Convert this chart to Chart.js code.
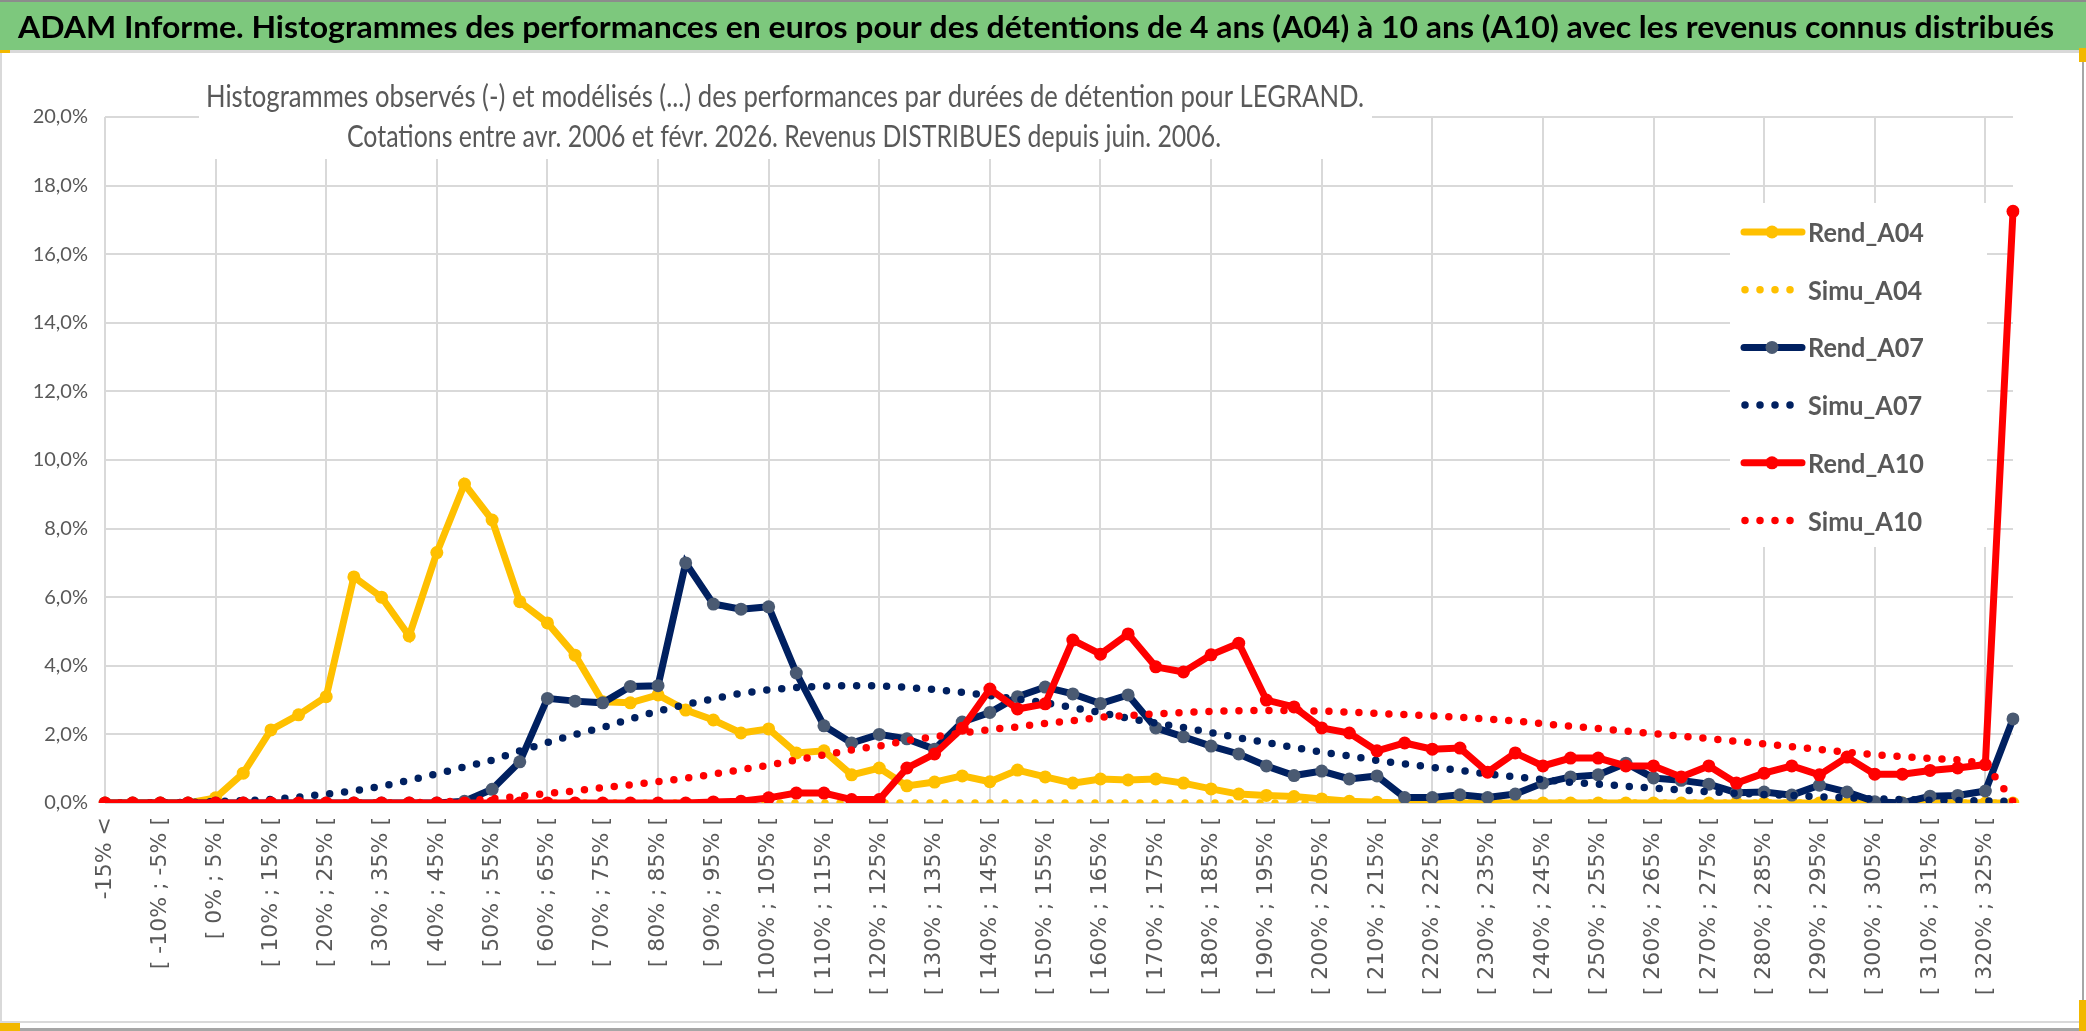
<!DOCTYPE html>
<html>
<head>
<meta charset="utf-8">
<script src="https://cdn.jsdelivr.net/npm/chart.js@4/dist/chart.umd.min.js"></script>
<style>
  html, body { margin: 0; padding: 0; background: #fff; }
  body { width: 2086px; height: 1031px; overflow: hidden; }
  #graphique { display: block; }
</style>
</head>
<body>
<canvas id="graphique" width="2086" height="1031"></canvas>
<script>
// libellés et valeurs (en %)
const titreBandeau = 'ADAM Informe. Histogrammes des performances en euros pour des détentions de 4 ans (A04) à 10 ans (A10) avec les revenus connus distribués';
const sousTitre = [
  'Histogrammes observés (-) et modélisés (...) des performances par durées de détention pour LEGRAND.',
  'Cotations entre avr. 2006 et févr. 2026. Revenus DISTRIBUES depuis juin. 2006.'
];

const categories = [
  '-15% <', '[ -15% ; -10% [', '[ -10% ; -5% [', '[ -5% ; 0% [', '[ 0% ; 5% [',
  '[ 5% ; 10% [', '[ 10% ; 15% [', '[ 15% ; 20% [', '[ 20% ; 25% [', '[ 25% ; 30% [',
  '[ 30% ; 35% [', '[ 35% ; 40% [', '[ 40% ; 45% [', '[ 45% ; 50% [', '[ 50% ; 55% [',
  '[ 55% ; 60% [', '[ 60% ; 65% [', '[ 65% ; 70% [', '[ 70% ; 75% [', '[ 75% ; 80% [',
  '[ 80% ; 85% [', '[ 85% ; 90% [', '[ 90% ; 95% [', '[ 95% ; 100% [', '[ 100% ; 105% [',
  '[ 105% ; 110% [', '[ 110% ; 115% [', '[ 115% ; 120% [', '[ 120% ; 125% [', '[ 125% ; 130% [',
  '[ 130% ; 135% [', '[ 135% ; 140% [', '[ 140% ; 145% [', '[ 145% ; 150% [', '[ 150% ; 155% [',
  '[ 155% ; 160% [', '[ 160% ; 165% [', '[ 165% ; 170% [', '[ 170% ; 175% [', '[ 175% ; 180% [',
  '[ 180% ; 185% [', '[ 185% ; 190% [', '[ 190% ; 195% [', '[ 195% ; 200% [', '[ 200% ; 205% [',
  '[ 205% ; 210% [', '[ 210% ; 215% [', '[ 215% ; 220% [', '[ 220% ; 225% [', '[ 225% ; 230% [',
  '[ 230% ; 235% [', '[ 235% ; 240% [', '[ 240% ; 245% [', '[ 245% ; 250% [', '[ 250% ; 255% [',
  '[ 255% ; 260% [', '[ 260% ; 265% [', '[ 265% ; 270% [', '[ 270% ; 275% [', '[ 275% ; 280% [',
  '[ 280% ; 285% [', '[ 285% ; 290% [', '[ 290% ; 295% [', '[ 295% ; 300% [', '[ 300% ; 305% [',
  '[ 305% ; 310% [', '[ 310% ; 315% [', '[ 315% ; 320% [', '[ 320% ; 325% [', '> 325%'
];

const rendA04 = [
  0, 0, 0, 0, 0.15, 0.87, 2.13, 2.57, 3.1, 6.59,
  6.0, 4.87, 7.3, 9.3, 8.25, 5.87, 5.25, 4.31, 2.95, 2.92,
  3.15, 2.71, 2.42, 2.04, 2.16, 1.46, 1.52, 0.82, 1.02, 0.5,
  0.61, 0.79, 0.62, 0.96, 0.76, 0.58, 0.7, 0.67, 0.7, 0.58,
  0.41, 0.26, 0.22, 0.19, 0.12, 0.05, 0.02, 0, 0, 0,
  0, 0, 0, 0, 0, 0, 0, 0, 0, 0,
  0, 0, 0, 0, 0, 0, 0, 0, 0, 0
];
const simuA04 = [
  0, 0, 0, 0, 0, 0, 0, 0, 0, 0,
  0, 0, 0, 0, 0, 0, 0, 0, 0, 0,
  0, 0, 0, 0, 0, 0, 0, 0, 0, 0,
  0, 0, 0, 0, 0, 0, 0, 0, 0, 0,
  0, 0, 0, 0, 0, 0, 0, 0, 0, 0,
  0, 0, 0, 0, 0, 0, 0, 0, 0, 0,
  0, 0, 0, 0, 0, 0, 0, 0, 0, 0
];
const rendA07 = [
  0, 0, 0, 0, 0, 0, 0, 0, 0, 0,
  0, 0, 0, 0.05, 0.4, 1.2, 3.05, 2.97, 2.92, 3.4,
  3.42, 7.0, 5.8, 5.65, 5.72, 3.79, 2.25, 1.75, 2.0, 1.87,
  1.57, 2.36, 2.64, 3.1, 3.38, 3.18, 2.9, 3.15, 2.19, 1.93,
  1.66, 1.43, 1.08, 0.8, 0.93, 0.7, 0.79, 0.16, 0.16, 0.24,
  0.16, 0.26, 0.58, 0.76, 0.82, 1.16, 0.73, 0.66, 0.55, 0.3,
  0.32, 0.23, 0.52, 0.32, 0.04, 0.0, 0.2, 0.22, 0.35, 2.45
];
const simuA07 = [
  0, 0, 0.01, 0.02, 0.04, 0.07, 0.1, 0.17, 0.26, 0.35,
  0.49, 0.66, 0.85, 1.05, 1.25, 1.52, 1.76, 2.0, 2.2, 2.45,
  2.68, 2.87, 3.04, 3.2, 3.3, 3.37, 3.41, 3.42, 3.42, 3.37,
  3.31, 3.23, 3.13, 3.03, 2.92, 2.78, 2.64, 2.47, 2.33, 2.2,
  2.05, 1.9, 1.76, 1.62, 1.48, 1.37, 1.24, 1.14, 1.04, 0.95,
  0.85, 0.76, 0.68, 0.6, 0.55, 0.49, 0.43, 0.38, 0.33, 0.28,
  0.25, 0.22, 0.18, 0.15, 0.12, 0.1, 0.08, 0.07, 0.06, 0.05
];
const rendA10 = [
  0, 0, 0, 0, 0, 0, 0, 0, 0, 0,
  0, 0, 0, 0, 0, 0, 0, 0, 0, 0,
  0, 0, 0.03, 0.05, 0.15, 0.29, 0.29, 0.1, 0.1, 1.02,
  1.43, 2.18, 3.32, 2.74, 2.89, 4.75, 4.34, 4.93, 3.97, 3.82,
  4.32, 4.66, 3.0, 2.8, 2.19, 2.04, 1.52, 1.75, 1.57, 1.6,
  0.9, 1.46, 1.08, 1.31, 1.31, 1.08, 1.08, 0.76, 1.08, 0.58,
  0.87, 1.08, 0.82, 1.34, 0.84, 0.84, 0.95, 1.02, 1.12, 17.25
];
const simuA10 = [
  0, 0, 0, 0, 0, 0, 0, 0, 0, 0,
  0, 0, 0.03, 0.06, 0.12, 0.2, 0.28, 0.35, 0.45, 0.53,
  0.62, 0.72, 0.84, 0.97, 1.1, 1.25, 1.4, 1.55, 1.66, 1.82,
  1.93, 2.04, 2.14, 2.22, 2.32, 2.4, 2.5, 2.55, 2.6, 2.64,
  2.67, 2.69, 2.7, 2.7, 2.68, 2.65, 2.61, 2.58, 2.54, 2.5,
  2.45, 2.39, 2.31, 2.24, 2.17, 2.1, 2.02, 1.95, 1.88, 1.8,
  1.72, 1.64, 1.56, 1.48, 1.41, 1.35, 1.3, 1.26, 1.15, 0.05
];

const JAUNE = '#FFC000';
const MARINE = '#002060';
const ROUGE = '#FF0000';
const GRIS_TEXTE = '#595959';
const GRILLE = '#d9d9d9';
const POLICE_TITRE = "Lato, 'Open Sans', sans-serif";

// texte compressé / étiré horizontalement pour tenir dans une largeur donnée
function texteAjuste(ctx, txt, x, y, largeur) {
  const w = ctx.measureText(txt).width;
  ctx.save();
  ctx.translate(x, y);
  ctx.scale(largeur / w, 1);
  ctx.fillText(txt, 0, 0);
  ctx.restore();
}

function serieRend(label, data, couleur, couleurPoint, ordre) {
  return {
    label: label, data: data, order: ordre,
    borderColor: couleur, backgroundColor: couleurPoint,
    borderWidth: 7, tension: 0,
    pointRadius: 6.5, pointHoverRadius: 6.5, pointBorderWidth: 0,
    pointBackgroundColor: couleurPoint,
    fill: false
  };
}
function serieSimu(label, data, couleur, ordre) {
  return {
    label: label, data: data, order: ordre,
    borderColor: couleur, backgroundColor: couleur,
    borderWidth: 7.5, borderDash: [0, 15], borderCapStyle: 'round',
    tension: 0, pointRadius: 0, pointHoverRadius: 0,
    fill: false
  };
}

const decor = {
  id: 'decor',
  beforeDraw(chart) {
    const ctx = chart.ctx;
    ctx.save();
    ctx.fillStyle = '#fff';
    ctx.fillRect(0, 0, chart.width, chart.height);
    // bandeau vert
    ctx.fillStyle = '#7dc87d';
    ctx.fillRect(0, 0, chart.width, 50);
    ctx.fillStyle = '#8c8c8c';
    ctx.fillRect(0, 0, chart.width, 2);
    ctx.fillStyle = GRILLE;
    ctx.fillRect(0, 50, chart.width, 3);
    ctx.fillStyle = '#000';
    ctx.font = 'bold 31px ' + POLICE_TITRE;
    ctx.textAlign = 'left';
    ctx.textBaseline = 'alphabetic';
    texteAjuste(ctx, titreBandeau, 18, 38, 2036);
    // cadre
    ctx.fillStyle = GRILLE;
    ctx.fillRect(0, 1021, chart.width, 2);
    ctx.fillRect(0, 53, 2, 978);
    ctx.fillStyle = '#a6a6a6';
    ctx.fillRect(0, 1028, chart.width, 3);
    ctx.fillRect(2082, 50, 2, 981);
    ctx.fillStyle = '#f2b800';
    ctx.fillRect(0, 50, 10, 3);
    ctx.fillRect(0, 1023, 20, 8);
    ctx.fillRect(2079, 48, 7, 14);
    ctx.fillRect(2079, 1000, 7, 31);
    ctx.restore();
  },
  afterDraw(chart) {
    const ctx = chart.ctx;
    ctx.save();
    // titre du graphique
    ctx.fillStyle = '#fff';
    ctx.fillRect(199, 53, 1173, 106);
    ctx.fillStyle = GRIS_TEXTE;
    ctx.font = '31px ' + POLICE_TITRE;
    ctx.textAlign = 'center';
    ctx.textBaseline = 'alphabetic';
    texteAjuste(ctx, sousTitre[0], 785, 107, 1158);
    texteAjuste(ctx, sousTitre[1], 784, 147, 874);

    // légende
    ctx.fillStyle = '#fff';
    ctx.fillRect(1730, 203, 257, 344);
    ctx.font = 'bold 27px ' + POLICE_TITRE;
    ctx.textAlign = 'left';
    const k = 116 / ctx.measureText('Rend_A04').width;
    chart.data.datasets.forEach((ds, i) => {
      const yc = 232 + i * 57.7;
      ctx.save();
      ctx.strokeStyle = ds.borderColor;
      ctx.lineWidth = ds.borderWidth;
      if (ds.borderDash) {
        ctx.setLineDash(ds.borderDash);
        ctx.lineCap = 'round';
        ctx.beginPath();
        ctx.moveTo(1745, yc);
        ctx.lineTo(1800, yc);
        ctx.stroke();
      } else {
        ctx.lineCap = 'round';
        ctx.beginPath();
        ctx.moveTo(1744, yc);
        ctx.lineTo(1802, yc);
        ctx.stroke();
        ctx.fillStyle = ds.pointBackgroundColor;
        ctx.beginPath();
        ctx.arc(1772, yc, ds.pointRadius, 0, Math.PI * 2);
        ctx.fill();
      }
      ctx.restore();
      ctx.fillStyle = GRIS_TEXTE;
      const w = ctx.measureText(ds.label).width;
      texteAjuste(ctx, ds.label, 1808, yc + 10, w * k);
    });
    ctx.restore();
  }
};

new Chart(document.getElementById('graphique'), {
  type: 'line',
  data: {
    labels: categories,
    datasets: [
      serieRend('Rend_A04', rendA04, JAUNE, JAUNE, 6),
      serieSimu('Simu_A04', simuA04, JAUNE, 5),
      serieRend('Rend_A07', rendA07, MARINE, '#4a5a72', 4),
      serieSimu('Simu_A07', simuA07, MARINE, 3),
      serieRend('Rend_A10', rendA10, ROUGE, ROUGE, 2),
      serieSimu('Simu_A10', simuA10, ROUGE, 1)
    ]
  },
  options: {
    responsive: false,
    animation: false,
    devicePixelRatio: 1,
    layout: { padding: { top: 117, right: 73, left: 0, bottom: 0 } },
    plugins: {
      legend: { display: false },
      title: { display: false },
      tooltip: { enabled: false }
    },
    scales: {
      x: {
        offset: false,
        border: { display: false },
        grid: {
          drawTicks: false,
          lineWidth: 2,
          color: (c) => (c.index % 4 === 0 ? GRILLE : 'rgba(0,0,0,0)')
        },
        ticks: {
          autoSkip: false,
          minRotation: 90,
          maxRotation: 90,
          padding: 14,
          color: GRIS_TEXTE,
          font: { family: "'DejaVu Sans', Verdana, sans-serif", size: 22 },
          callback: (v, i) => (i % 2 === 0 ? categories[i] : '')
        },
        afterFit: (s) => { s.height = 1031 - 803; }
      },
      y: {
        min: 0,
        max: 20,
        border: { display: false },
        grid: { drawTicks: false, lineWidth: 2, color: GRILLE },
        ticks: {
          stepSize: 2,
          padding: 17,
          color: GRIS_TEXTE,
          font: { family: "'Liberation Sans Narrow', 'Arial Narrow', Lato, sans-serif", size: 20 },
          callback: (v) => v.toFixed(1).replace('.', ',') + '%'
        },
        afterFit: (s) => { s.width = 105; }
      }
    }
  },
  plugins: [decor]
});
</script>
</body>
</html>
